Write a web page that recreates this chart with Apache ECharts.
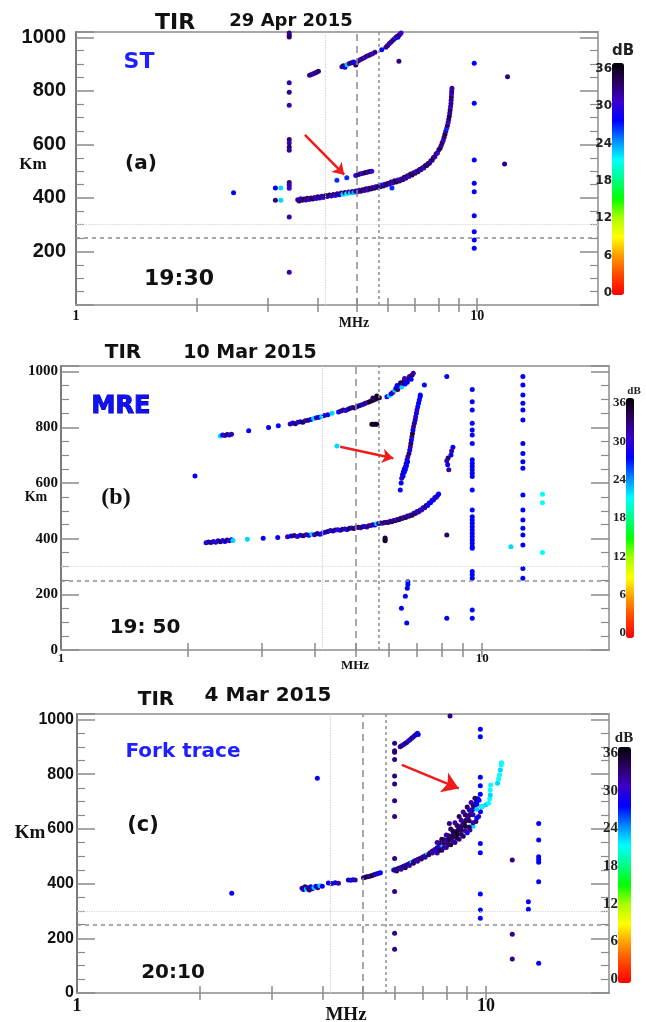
<!DOCTYPE html>
<html><head><meta charset="utf-8">
<script src="https://cdn.jsdelivr.net/npm/echarts@6/dist/echarts.min.js"></script>
<style>html,body{margin:0;padding:0;background:#fff}#c{width:646px;height:1022px}</style>
</head><body><div id="c"></div>
<script>
// ---------- shared scales ----------
const FREQ_MIN = 1, FREQ_MAX = 20;
const KM_MIN = 0, KM_MAX = 1020, KM_STEP = 200;
const DB_MIN = 0, DB_MAX = 36, DB_STEP = 6;
const freqTickValues = [2, 3, 4, 5, 6, 7, 8, 9, 10];
const freqLabelValues = [1, 10];
const vLinesMHz = [4.17, 5.0, 5.68];   // dotted, dashed, short-dashed
const hLinesKm = [300, 250];            // dotted, dashed
const dbColors = ['#ff0000','#ff4400','#ff9900','#ffff00','#aaff00','#00ff00','#00ff88',
                  '#00ffff','#0088ff','#0000ff','#3a00cc','#2a0060','#000000'];

// ---------- panel (a) 29 Apr 2015 : [MHz, km, dB] ----------
const aTraceF = [
 [3.57,393,31],[3.60,389,33],[3.63,397,30],[3.67,391,32],[3.70,396,34],[3.74,392,31],[3.77,399,33],[3.81,394,30],
 [3.85,400,32],[3.89,396,34],[3.93,402,31],[3.97,398,29],[4.01,404,33],[4.05,400,31],[4.10,406,32],[4.14,402,30],
 [4.19,409,33],[4.23,405,31],[4.28,411,34],[4.33,407,29],[4.38,413,32],[4.43,409,30],[4.48,416,33],[4.53,412,27],
 [4.58,418,31],[4.63,414,22],[4.68,420,33],[4.73,416,21],[4.78,422,30],[4.83,418,22],[4.88,424,32],[4.93,420,23],
 [4.98,426,31],[5.03,423,33],[5.08,429,30],[5.13,425,32],[5.18,431,34],[5.23,428,31],[5.28,434,33],[5.33,430,30],
 [5.38,436,32],[5.43,433,34],[5.48,439,31],[5.53,436,33],[5.58,442,30],[5.63,439,32],[5.68,445,34],[5.73,442,31],
 [5.78,448,26],[5.83,445,33],[5.88,451,30],[5.93,448,32],[5.98,454,34],[6.04,452,31],[6.10,460,33],[6.16,456,30],
 [6.22,464,32],[6.28,460,34],[6.34,467,31],[6.40,463,33],[6.46,471,30],[6.52,468,32],[6.58,477,34],[6.64,474,31],
 [6.70,483,33],[6.76,480,30],[6.82,489,32],[6.88,486,34],[6.94,494,31],[7.00,492,33],[7.06,500,30],[7.12,498,32],
 [7.18,506,34],[7.24,505,31],[7.30,513,33],[7.36,512,30],[7.42,521,32],[7.48,521,34],[7.54,529,31],[7.60,530,33],
 [7.66,539,30],[7.72,541,32],[7.78,551,34],[7.84,554,31],[7.90,565,33],[7.96,568,30],[8.02,580,32],[8.08,586,34],
 [8.13,596,31],[8.18,606,33],[8.23,616,30],[8.27,627,32],[8.31,638,34],[8.35,649,31],[8.39,660,26],[8.43,671,33],
 [8.46,682,30],[8.49,693,32],[8.52,705,34],[8.54,717,31],[8.56,729,33],[8.58,741,30],[8.60,753,32],[8.61,765,31],
 [8.62,777,33],[8.63,789,30],[8.64,800,32],[8.65,810,31]
];
const aTraceST = [
 [4.47,466,26],[4.73,475,26],[4.98,484,28],[5.04,487,31],[5.10,489,33],[5.16,491,30],[5.22,493,32],[5.28,495,34],
 [5.34,497,31],[5.40,499,33],[5.46,500,30]
];
const aTraceUpper = [
 [3.82,858,31],[3.86,861,33],[3.90,864,30],[3.94,867,32],[3.98,870,31],[4.02,873,33],[4.60,890,31],[4.64,894,33],
 [4.68,888,27],[4.74,898,22],[4.80,902,31],[4.86,905,33],[4.92,908,27],[4.98,897,33],[5.00,905,30],[5.06,913,32],
 [5.12,917,31],[5.18,921,33],[5.24,925,30],[5.30,929,32],[5.36,932,31],[5.42,936,33],[5.48,939,30],[5.56,944,32],
 [5.78,954,27],[5.92,963,31],[5.98,970,33],[6.04,977,30],[6.10,983,32],[6.15,988,31],[6.20,993,33],[6.25,998,30],
 [6.30,1003,32],[6.34,1000,27],[6.38,1008,31],[6.42,1012,33],[6.46,1016,30],[6.38,911,32]
];
const aColumns = [
 [3.40,1016,32],[3.40,1008,31],[3.40,1001,33],[3.40,830,31],[3.40,795,32],[3.40,746,31],[3.40,618,32],[3.40,605,31],
 [3.40,590,33],[3.40,578,31],[3.40,458,32],[3.40,447,31],[3.40,436,30],[3.40,329,31],[3.40,122,31],
 [9.83,903,27],[9.83,754,27],[9.83,542,27],[9.83,455,27],[9.83,423,27],[9.83,333,27],[9.83,274,27],[9.83,243,27],[9.83,212,27]
];
const aMisc = [
 [3.14,437,27],[3.24,437,22],[3.14,391,32],[3.24,391,22],[2.47,419,27],[6.13,437,26],[11.9,853,32],[11.7,527,32]
];
const aArrow = [[3.72,636],[4.66,487]];

// ---------- panel (b) 10 Mar 2015 ----------
const bTraceF = [
 [2.21,385,31],[2.24,388,27],[2.27,386,33],[2.30,390,29],[2.33,387,31],[2.36,392,27],[2.39,389,33],[2.42,393,31],
 [2.45,390,27],[2.48,395,33],[2.51,392,30],[2.54,396,27],[2.56,393,22],[2.77,398,22],[3.02,401,27],[3.27,404,27],
 [3.45,407,31],[3.52,409,27],[3.58,411,33],[3.64,408,30],[3.70,412,27],[3.76,410,33],[3.82,414,31],[3.88,412,27],
 [3.94,416,22],[4.00,414,31],[4.06,418,33],[4.12,416,27],[4.18,420,30],[4.24,423,27],[4.30,426,33],[4.36,429,31],
 [4.42,427,27],[4.48,431,33],[4.54,432,30],[4.60,430,27],[4.66,434,33],[4.72,435,31],[4.78,433,27],[4.84,437,34],
 [4.90,438,31],[4.96,436,33],[5.02,440,30],[5.08,441,34],[5.14,439,31],[5.20,443,33],[5.26,444,27],[5.32,442,31],
 [5.38,446,33],[5.44,447,30],[5.50,450,32],[5.56,449,27],[5.62,453,22],[5.68,454,31],[5.74,456,33],[5.80,455,30],
 [5.86,458,34],[5.92,459,31],[5.98,458,33],[6.04,462,30],[6.10,461,34],[6.16,465,31],[6.22,464,33],[6.28,469,30],
 [6.34,468,34],[6.40,473,31],[6.46,472,33],[6.52,477,30],[6.58,476,34],[6.64,481,31],[6.70,480,33],[6.76,485,30],
 [6.82,484,34],[6.88,491,31],[6.94,490,33],[7.00,497,27],[7.06,496,31],[7.12,503,33],[7.18,503,30],[7.24,511,27],
 [7.30,511,31],[7.36,519,33],[7.42,519,27],[7.48,528,31],[7.54,529,27],[7.60,538,30],[7.66,539,27],[7.72,548,31],
 [7.78,549,27],[7.84,556,31],[7.88,560,27]
];
const bTraceUpper = [
 [2.39,769,22],[2.42,772,27],[2.45,770,31],[2.48,774,33],[2.51,772,27],[2.54,775,31],[2.79,787,27],[3.11,799,27],
 [3.28,805,27],[3.50,812,31],[3.55,815,27],[3.60,813,33],[3.65,818,31],[3.70,820,27],[3.75,818,34],[3.80,823,31],
 [3.86,825,33],[3.92,828,27],[3.98,831,22],[4.04,834,31],[4.10,836,27],[4.16,839,22],[4.22,842,31],[4.30,845,27],
 [4.40,850,22],[4.56,855,27],[4.62,858,31],[4.68,862,33],[4.74,860,30],[4.80,865,27],[4.86,868,34],[4.92,871,31],
 [4.98,869,33],[5.04,874,30],[5.10,877,34],[5.16,880,27],[5.22,883,31],[5.28,886,33],[5.34,889,30],[5.40,892,35],
 [5.46,895,34],[5.52,898,35],[5.58,901,33],[5.64,904,35],[5.70,906,34],[5.50,905,33],[5.62,912,35],
 [5.94,910,27],[6.02,914,22],[6.08,920,27],[6.14,926,31],[6.20,933,22],[6.24,940,27],[6.30,936,33],[6.34,946,31],
 [6.38,952,27],[6.44,945,22],[6.48,958,31],[6.52,965,33],[6.56,955,27],[6.60,970,31],[6.64,962,27],[6.68,976,33],
 [6.72,982,31],[6.78,972,27],[6.82,988,33],[6.86,994,31],[6.28,950,27],[6.40,960,33],[6.54,975,31]
];
const bTraceMRE = [
 [6.39,575,27],[6.42,600,27],[6.44,617,31],[6.47,630,27],[6.50,640,33],[6.53,650,27],[6.57,658,31],[6.60,670,33],
 [6.63,682,27],[6.66,694,31],[6.70,706,33],[6.73,718,27],[6.75,730,31],[6.77,742,33],[6.79,754,27],[6.81,766,31],
 [6.83,778,34],[6.85,790,27],[6.87,802,31],[6.90,814,33],[6.93,826,27],[6.95,838,31],[6.98,850,27],[7.00,862,31],
 [7.03,874,27],[7.06,886,27],[7.09,898,27],[7.12,910,27],[7.13,916,27],
 [6.49,625,27],[6.53,638,27],[6.57,648,27],[6.61,662,27],[6.65,676,27]
];
const bColumns = [
 [9.47,936,27],[9.47,892,27],[9.47,862,27],[9.47,814,27],[9.47,790,27],[9.47,772,27],[9.47,742,27],[9.47,683,27],
 [9.47,671,27],[9.47,659,27],[9.47,647,27],[9.47,635,27],[9.47,623,27],[9.47,575,27],[9.47,503,27],[9.47,479,27],
 [9.47,467,27],[9.47,455,27],[9.47,443,27],[9.47,431,27],[9.47,419,27],[9.47,407,27],[9.47,395,27],[9.47,383,27],
 [9.47,371,27],[9.47,365,27],[9.47,282,27],[9.47,270,27],[9.47,258,27],[9.47,144,27],[9.47,114,27],
 [12.49,982,27],[12.49,952,27],[12.49,916,27],[12.49,886,27],[12.49,862,27],[12.49,826,27],[12.49,742,27],
 [12.49,706,27],[12.49,676,27],[12.49,653,27],[12.49,557,27],[12.49,503,27],[12.49,467,27],[12.49,437,27],
 [12.49,413,27],[12.49,377,27],[12.49,293,27],[12.49,258,27]
];
const bMisc = [
 [2.08,625,27],[4.52,733,22],[5.47,811,35],[5.52,811,36],[5.57,811,34],[5.62,811,35],[7.29,952,27],[8.24,982,27],
 [8.52,728,27],[8.46,715,31],[8.43,700,27],[8.30,690,33],[8.24,680,31],[8.28,665,27],[8.33,647,31],[8.24,413,33],
 [8.24,114,27],[5.88,392,35],[5.88,397,35],[5.88,402,34],[6.66,245,27],[6.66,235,27],[6.64,222,27],[6.57,193,27],
 [6.43,150,27],[6.62,97,27],[13.9,559,21],[13.9,529,21],[13.9,350,21],[11.7,371,22]
];
const bArrow = [[4.60,730],[6.15,689]];

// ---------- panel (c) 4 Mar 2015 ----------
const cTraceF = [
 [3.55,383,31],[3.58,378,27],[3.61,388,33],[3.64,380,22],[3.67,385,31],[3.70,377,33],[3.73,388,27],[3.76,381,31],
 [3.80,386,22],[3.84,390,27],[3.88,385,31],[3.93,392,22],[3.98,390,27],[4.12,402,27],[4.20,400,31],[4.28,403,27],
 [4.36,401,31],[4.61,413,27],[4.67,412,31],[4.73,414,27],[4.79,413,31],[5.02,421,33],[5.07,423,31],[5.12,425,35],
 [5.17,426,33],[5.22,428,31],[5.27,430,35],[5.32,432,33],[5.37,434,31],[5.42,436,27],[5.47,438,31],[5.52,440,27],
 [5.95,450,27],[6.00,453,22],[6.06,452,31],[6.12,456,33],[6.18,458,31],[6.24,461,27],[6.30,463,33],[6.36,466,31],
 [6.42,469,27],[6.48,472,33],[6.54,475,31],[6.60,478,22],[6.66,481,33],[6.72,484,31],[6.78,486,27],[6.84,489,33],
 [6.90,492,31],[7.00,497,27],[7.10,502,31],[7.20,507,22],[7.30,513,31],[7.40,519,33],[7.50,525,31],[7.60,531,27],
 [6.05,446,33],[6.20,452,31],[6.35,458,33],[6.50,466,31],[6.65,474,33],[6.80,482,31],[6.95,490,33],[7.10,496,31],
 [7.25,505,33],[7.40,512,31],
 [7.70,537,31],[7.80,543,22],[7.90,549,33],[8.00,555,31],[8.08,561,33],[8.16,567,31],[8.24,573,34],[8.32,579,33],
 [8.40,584,31],[8.48,590,33],[8.56,597,34],[8.64,604,31],[8.72,611,33],[8.80,618,31],[8.88,626,34],[8.96,633,33],
 [9.04,642,31],[9.12,651,33],[9.20,660,31],[9.27,670,27],[9.34,680,31],[9.41,690,33],[9.48,700,31],[9.55,710,27],
 [7.60,512,31],[7.80,522,33],[8.00,532,31],[8.20,542,34],[8.40,550,33],[8.60,562,31],[8.80,573,33],[9.00,586,27],
 [9.14,596,31],[9.30,610,22],[9.45,627,33],[9.60,645,31],[9.70,663,27],[9.78,681,31],
 [7.70,522,33],[7.90,532,31],[8.10,543,33],[8.30,555,31],[8.50,567,34],[8.70,580,33],[8.90,593,31],[9.10,607,33],
 [9.30,622,31],[9.50,640,27],
 [8.10,560,34],[8.30,570,33],[8.50,582,35],[8.70,596,33],[8.90,610,34],[9.10,630,33],[9.30,652,31],[9.50,672,22],
 [7.70,548,33],[7.90,560,31],[8.10,575,33],[8.30,592,34],[8.50,612,33],[8.70,632,31],[8.90,652,33],[9.10,670,31],
 [9.30,688,33],
 [7.60,550,31],[7.80,562,33],[8.00,578,31],[8.20,600,33],[8.40,622,31],[8.60,645,33],[8.80,662,31],[9.00,680,33],
 [9.20,696,31],[9.40,712,33]
];
const cTraceFork = [
 [9.78,681,21],[10.0,688,22],[10.15,694,21],[10.22,710,21],[10.25,724,22],[10.25,742,21],[10.27,760,21],
 [10.68,767,22],[10.74,782,21],[10.80,797,21],[10.85,815,22],[10.90,834,21],[10.92,842,21],
 [9.50,690,27],[9.62,705,27]
];
const cTraceUpper = [
 [6.17,900,31],[6.22,904,33],[6.28,908,31],[6.34,912,27],[6.40,916,33],[6.46,921,31],[6.52,926,27],[6.58,931,33],
 [6.64,936,31],[6.70,941,27],[6.76,946,33],[6.80,950,31],[6.83,945,27]
];
const cColumns = [
 [5.98,913,32],[5.98,886,32],[5.98,880,33],[5.98,854,32],[5.98,793,32],[5.98,764,32],[5.98,703,32],[5.98,645,32],
 [5.98,492,32],[5.98,450,32],[5.98,371,32],[5.98,218,32],[5.98,160,32],
 [9.69,964,27],[9.69,937,27],[9.69,789,27],[9.69,758,27],[9.69,727,27],[9.69,547,27],[9.69,513,27],[9.69,362,27],
 [9.69,303,27],[9.69,273,27],
 [13.46,620,27],[13.46,559,27],[13.46,498,27],[13.46,488,27],[13.46,478,27],[13.46,407,27],[13.46,109,27]
];
const cMisc = [
 [3.87,785,27],[2.39,365,27],[8.17,1013,32],[8.14,620,32],[11.6,486,32],[11.6,215,32],[11.6,124,32],
 [12.7,334,27],[12.7,306,27]
];
const cArrow = [[6.23,834],[8.58,748]];

// ---------- layout ----------
const SANS = '"DejaVu Sans", Verdana, sans-serif';
const ARIAL = '"Liberation Sans", Arial, sans-serif';
const SERIF = '"Liberation Serif", "Times New Roman", serif';

const panelData = [
  [].concat(aTraceF, aTraceST, aTraceUpper, aColumns, aMisc),
  [].concat(bTraceF, bTraceUpper, bTraceMRE, bColumns, bMisc),
  [].concat(cTraceF, cTraceFork, cTraceUpper, cColumns, cMisc)
];
const panelArrows = [aArrow, bArrow, cArrow];

const P = [
 {grid:{left:76,top:32,width:522,height:273}, yFont:[ARIAL,20], yMargin:10, yPad:[5,0,0,0], hideZero:true,
  xFont:[SERIF,14], xMargin:4, bar:{left:612,top:63,w:12,h:232}, lab:{top:69,h:224}, labFont:[SANS,12], arrowSize:11},
 {grid:{left:61,top:366,width:548,height:284}, yFont:[SERIF,15], yMargin:3, yPad:[0,0,0,0], hideZero:false,
  xFont:[SERIF,13], xMargin:2, bar:{left:626,top:398,w:8,h:240}, lab:{top:403,h:230}, labFont:[SERIF,13], arrowSize:11},
 {grid:{left:77,top:714,width:532,height:279}, yFont:[ARIAL,16], yMargin:3, yPad:[0,0,0,0], hideZero:false,
  xFont:[SERIF,18], xMargin:4, bar:{left:618,top:747,w:13,h:236}, lab:{top:753,h:226}, labFont:[SERIF,15], arrowSize:16}
];

const grids = [], xAxes = [], yAxes = [], series = [], visualMaps = [];
const tickStyle = {color:'#8a8a8a', width:1.5};

P.forEach((p) => {
  grids.push(Object.assign({show:true, borderColor:'#a8a8a8', borderWidth:2, containLabel:false}, p.grid));
});
P.forEach((p) => {
  grids.push({left:p.bar.left, top:p.lab.top, width:p.bar.w, height:p.lab.h, show:false});
});

// bottom x axes (0..2)
P.forEach((p, i) => {
  xAxes.push({
    type:'log', logBase:10, min:FREQ_MIN, max:FREQ_MAX, gridIndex:i, position:'bottom',
    axisLine:{show:true, lineStyle:{color:'#7a7a7a', width:2}},
    axisTick:{show:true, inside:true, length:7, lineStyle:tickStyle, customValues:freqTickValues},
    axisLabel:{show:true, customValues:freqLabelValues, margin:p.xMargin, color:'#111',
      fontFamily:p.xFont[0], fontSize:p.xFont[1], fontWeight:'bold'},
    splitLine:{show:false}, minorTick:{show:false}
  });
});
// top x axes (3..5)
P.forEach((p, i) => {
  xAxes.push({
    type:'log', logBase:10, min:FREQ_MIN, max:FREQ_MAX, gridIndex:i, position:'top',
    axisLine:{show:true, lineStyle:{color:'#a8a8a8', width:2}},
    axisTick:{show:true, inside:true, length:7, lineStyle:tickStyle, customValues:freqTickValues},
    axisLabel:{show:false}, splitLine:{show:false}
  });
});
// colorbar hidden x axes (6..8)
P.forEach((p, i) => {
  xAxes.push({type:'value', gridIndex:3+i, show:false, min:0, max:1});
});

// left y (0..2)
P.forEach((p, i) => {
  yAxes.push({
    type:'value', min:KM_MIN, max:KM_MAX, interval:KM_STEP, gridIndex:i, position:'left',
    axisLine:{show:true, lineStyle:{color:'#7a7a7a', width:2}},
    axisTick:{show:true, inside:true, length:18, lineStyle:tickStyle},
    minorTick:{show:true, splitNumber:4, length:8, lineStyle:{color:'#8a8a8a', width:1.2}},
    axisLabel:{margin:p.yMargin, color:'#111', fontFamily:p.yFont[0], fontSize:p.yFont[1], fontWeight:'bold',
      padding:p.yPad, formatter:v => (v > 1000 || (p.hideZero && v === 0)) ? '' : String(v)},
    splitLine:{show:false}
  });
});
// right y (3..5)
P.forEach((p, i) => {
  yAxes.push({
    type:'value', min:KM_MIN, max:KM_MAX, interval:KM_STEP, gridIndex:i, position:'right',
    axisLine:{show:true, lineStyle:{color:'#a8a8a8', width:2}},
    axisTick:{show:true, inside:true, length:18, lineStyle:tickStyle},
    minorTick:{show:true, splitNumber:4, length:8, lineStyle:{color:'#8a8a8a', width:1.2}},
    axisLabel:{show:false}, splitLine:{show:false}
  });
});
// colorbar label axes (6..8)
P.forEach((p, i) => {
  yAxes.push({
    type:'value', min:DB_MIN, max:DB_MAX, interval:DB_STEP, gridIndex:3+i, position:'left',
    axisLine:{show:false}, axisTick:{show:false}, splitLine:{show:false},
    axisLabel:{margin:0, color:'#222', fontFamily:p.labFont[0], fontSize:p.labFont[1], fontWeight:'bold'}
  });
});

// reference lines + arrows (series 0..2)
P.forEach((p, i) => {
  const arr = panelArrows[i];
  series.push({
    type:'line', xAxisIndex:i, yAxisIndex:i, data:[], silent:true, z:1,
    markLine:{
      silent:true, animation:false, symbol:['none','none'], label:{show:false},
      data:[
        {xAxis:vLinesMHz[0], lineStyle:{color:'#cfcfcf', type:'dotted', width:1.2}},
        {xAxis:vLinesMHz[1], lineStyle:{color:'#8c8c8c', type:[7,5], width:1.5}},
        {xAxis:vLinesMHz[2], lineStyle:{color:'#8c8c8c', type:[3,3], width:1.5}},
        {yAxis:hLinesKm[0], lineStyle:{color:'#d6d6d6', type:'dotted', width:1.2}},
        {yAxis:hLinesKm[1], lineStyle:{color:'#8c8c8c', type:[4,4], width:1.5}},
        [{coord:arr[0], symbol:'none', lineStyle:{color:'#ee1c1c', type:'solid', width:2.5}},
         {coord:arr[1], symbol:'arrow', symbolSize:p.arrowSize}]
      ]
    }
  });
});
// points (series 3..5)
P.forEach((p, i) => {
  series.push({
    type:'scatter', xAxisIndex:i, yAxisIndex:i, data:panelData[i], symbolSize:5, z:3,
    encode:{x:0, y:1}, itemStyle:{opacity:1}, animation:false
  });
  visualMaps.push({
    type:'continuous', seriesIndex:3+i, dimension:2, min:DB_MIN, max:DB_MAX,
    inRange:{color:dbColors}, calculable:false, hoverLink:false, padding:0,
    left:p.bar.left, top:p.bar.top, itemWidth:p.bar.w, itemHeight:p.bar.h, orient:'vertical'
  });
});

// texts
function T(text, x, y, size, family, fill, extra) {
  return {type:'text', x:x, y:y, silent:true, z:100,
    style:Object.assign({text:text, fill:fill || '#111', align:'center', verticalAlign:'middle',
      font:'bold ' + size + 'px ' + family}, extra || {})};
}
const texts = [
  T('TIR', 175, 23, 22, SANS), T('29 Apr 2015', 291, 21, 18, SANS),
  T('ST', 139, 62, 22, SANS, '#1f1fff'), T('(a)', 141, 164, 20, SANS), T('Km', 33, 165, 17, SERIF),
  T('19:30', 179, 279, 22, SANS), T('MHz', 354, 323, 14, SERIF), T('dB', 623, 51, 15, SANS, '#222'),

  T('TIR', 123, 353, 20, SANS), T('10 Mar 2015', 250, 353, 19, SANS),
  T('MRE', 121, 407, 24, SANS, '#1010ff', {stroke:'#000070', lineWidth:1}),
  T('(b)', 116, 498, 24, SERIF), T('Km', 36, 497, 14, SERIF),
  T('19: 50', 145, 628, 20, SANS), T('MHz', 355, 666, 13, SERIF), T('dB', 634, 391, 11, SERIF, '#222'),

  T('TIR', 156, 700, 20, SANS), T('4 Mar 2015', 268, 696, 20, SANS),
  T('Fork trace', 183, 752, 20, SANS, '#1f1fff'), T('(c)', 143, 826, 21, SANS), T('Km', 30, 833, 19, SERIF),
  T('20:10', 173, 973, 20, SANS), T('MHz', 346, 1015, 19, SERIF), T('dB', 624, 738, 15, SERIF, '#222')
];

const chart = echarts.init(document.getElementById('c'), null, {renderer:'canvas'});
chart.setOption({
  backgroundColor:'#ffffff',
  animation:false,
  grid:grids, xAxis:xAxes, yAxis:yAxes, series:series, visualMap:visualMaps,
  graphic:{elements:texts}
});
</script>
</body></html>
